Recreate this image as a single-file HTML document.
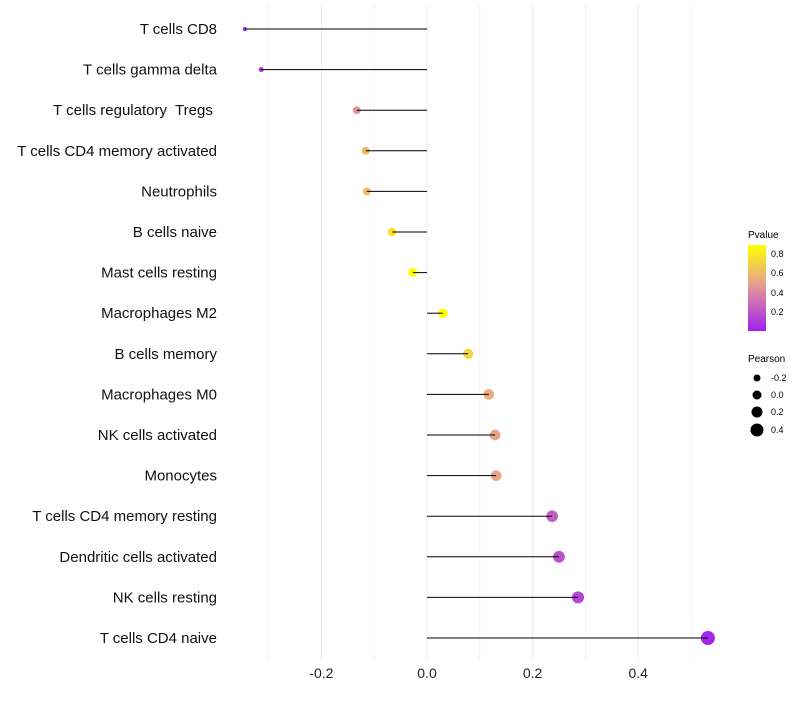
<!DOCTYPE html>
<html><head><meta charset="utf-8"><style>
body{margin:0;background:#fff;font-family:"Liberation Sans",sans-serif}
</style></head><body>
<svg id="chart" width="800" height="700" xmlns="http://www.w3.org/2000/svg">
<defs><linearGradient id="pg" x1="0" y1="1" x2="0" y2="0">
<stop offset="0" stop-color="#A020F0"/><stop offset="0.55" stop-color="#E8A090"/><stop offset="1" stop-color="#FFFF00"/>
</linearGradient></defs>
<g id="grid"></g><g id="marks"></g><g id="stems"></g><g id="labels"></g>
<g font-size="9">
<text x="748" y="238" font-size="10">Pvalue</text>
<rect x="748" y="245" width="18" height="86" fill="url(#pg)"/>
<text x="771" y="257">0.8</text><text x="771" y="276">0.6</text><text x="771" y="296">0.4</text><text x="771" y="315">0.2</text>
</g>
<g font-size="9">
<text x="748" y="362" font-size="10">Pearson</text>
<circle cx="757" cy="378" r="3.5"/><text x="771" y="381">-0.2</text>
<circle cx="757" cy="395" r="4.5"/><text x="771" y="398">0.0</text>
<circle cx="757" cy="412" r="5.5"/><text x="771" y="415">0.2</text>
<circle cx="757" cy="430" r="6.5"/><text x="771" y="433">0.4</text>
</g>
</svg>
<script>
const cells=["T cells CD8","T cells gamma delta","T cells regulatory  Tregs ","T cells CD4 memory activated","Neutrophils","B cells naive","Mast cells resting","Macrophages M2","B cells memory","Macrophages M0","NK cells activated","Monocytes","T cells CD4 memory resting","Dendritic cells activated","NK cells resting","T cells CD4 naive"];
const pearson=[-0.345,-0.314,-0.133,-0.116,-0.114,-0.066,-0.027,0.030,0.078,0.117,0.129,0.131,0.237,0.250,0.286,0.532];
const pvalues=[0.02,0.05,0.45,0.6,0.62,0.78,0.9,0.9,0.72,0.55,0.52,0.52,0.25,0.2,0.15,0.03];
const xTicks=[-0.2,0,0.2,0.4];
const xTickLabels=["-0.2","0.0","0.2","0.4"];
const ns="http://www.w3.org/2000/svg";
const X=v=>427+v*528, Y=i=>29+i*40.6;
const R=v=>Math.sqrt(Math.max(4,22+51*v));
function lerp(a,b,t){return a.map((x,k)=>Math.round(x+(b[k]-x)*t));}
function col(p){const t=Math.max(0,Math.min(1,(p-0.01)/0.89));const A=[160,32,240],B=[232,160,144],C=[255,255,0];
const c=t<0.55?lerp(A,B,t/0.55):lerp(B,C,(t-0.55)/0.45);return `rgb(${c})`;}
function el(t,a,p){const e=document.createElementNS(ns,t);for(const k in a)e.setAttribute(k,a[k]);p.appendChild(e);return e;}
const g=document.getElementById('grid'),m=document.getElementById('marks'),s=document.getElementById('stems'),l=document.getElementById('labels');
for(let v=-0.3;v<=0.55;v+=0.1){const e=el('line',{x1:X(v),x2:X(v),y1:5,y2:660,stroke:'#ebebeb','stroke-width':Math.abs(Math.round(v*10))%2==0?1:0.6},g);
}
xTicks.forEach((v,i)=>{const t=el('text',{x:X(v),y:678,'text-anchor':'middle','font-size':14,fill:'#222'},l);t.textContent=xTickLabels[i];
});
cells.forEach((c,i)=>{
const ci=el('circle',{cx:X(pearson[i]),cy:Y(i),r:R(pearson[i]),fill:col(pvalues[i])},m);

const ln=el('line',{x1:X(0),x2:X(pearson[i]),y1:Y(i),y2:Y(i),stroke:'#000','stroke-width':1},s);

const t=el('text',{x:217,y:Y(i)+5,'text-anchor':'end','font-size':15,fill:'#111','xml:space':'preserve'},l);t.textContent=c;
t.style.whiteSpace='pre';
});
</script>
</body></html>
